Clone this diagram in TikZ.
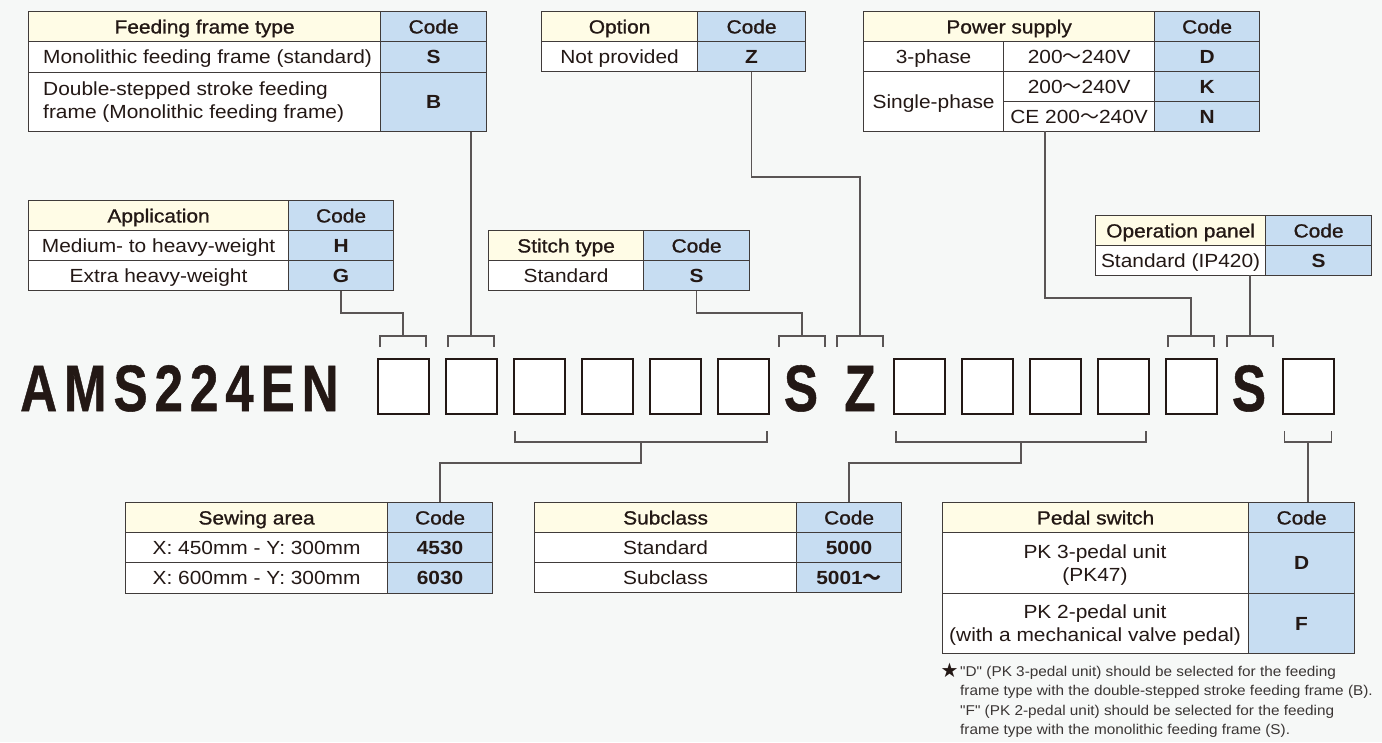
\documentclass[tikz,border=0pt]{standalone}
\usepackage{fontspec}
\setmainfont{Liberation Sans}[FakeStretch=1.10]
\newfontfamily\hdfont{Liberation Sans}[FakeStretch=1.10,FakeBold=1]
\newfontfamily\notefont{Liberation Sans}[FakeStretch=1.08]
\newfontfamily\titlefont{Liberation Sans}[LetterSpace=13.5,FakeBold=0.8]
\newfontfamily\codefont{Liberation Sans}[FakeBold=0.8]
\newfontfamily\cjk{Noto Sans CJK JP}
\newfontfamily\symfont{DejaVu Sans}
\newcommand\tld{{\cjk ～}}
\newcommand\fs{\fontsize{19}{23}\selectfont}
\definecolor{bg}{HTML}{F6F8F7}
\definecolor{cream}{HTML}{FFFCE6}
\definecolor{cblue}{HTML}{C7DDF2}
\definecolor{bd}{HTML}{403B3A}
\definecolor{txt}{HTML}{231815}
\definecolor{txtb}{HTML}{3A3534}
\definecolor{conn}{HTML}{5A5555}
\newcommand\tcell[7]{%
  \pgfmathsetmacro\cw{#4-#2}%
  \pgfmathsetmacro\ch{#5-#3}%
  \node[cellbox,#6,minimum width=\cw pt,minimum height=\ch pt,anchor=north west] (#1) at (#2,#3) {#7};}
\tikzset{
  cellbox/.style={draw=bd,line width=1.2pt,inner sep=0pt,align=center,text=txt,text height=13.7pt,text depth=0pt},
  multi/.style={text height={},text depth={}},
  hdr/.style={fill=cream,font=\hdfont\fs},
  codehd/.style={fill=cblue,font=\hdfont\fs},
  body/.style={fill=white,font=\fs},
  code/.style={fill=cblue,font=\bfseries\fs},
  lefttext/.style={anchor=west,inner sep=0pt,align=left,font=\fs,text=txt},
  conn/.style={draw=conn,line width=1.3pt},
  codebox/.style={draw=txt,line width=2.4pt,fill=white,minimum width=51pt,minimum height=55pt,inner sep=0pt},
  bigletter/.style={anchor=base,inner sep=0pt,font=\codefont\bfseries\fontsize{65.6}{70}\selectfont,text=txt}
}
\begin{document}
\begin{tikzpicture}[x=1pt,y=-1pt]
\fill[bg] (0,0) rectangle (1382,742);
\useasboundingbox (0,0) rectangle (1382,742);

% Feeding frame type
\tcell{ffH}{28}{11}{380}{41}{hdr}{Feeding frame type}
\tcell{ffHC}{380}{11}{486}{41}{codehd}{Code}
\tcell{ffR1}{28}{41}{380}{72}{body}{}
\tcell{ffS}{380}{41}{486}{72}{code}{S}
\tcell{ffR2}{28}{72}{380}{131}{body}{}
\tcell{ffB}{380}{72}{486}{131}{code}{B}
\node[lefttext,text height=13.7pt,text depth=0pt] (ffT1) at (43,56.5) {Monolithic feeding frame (standard)};
\node[lefttext] (ffT2) at (43,102.5) {Double-stepped stroke feeding\\frame (Monolithic feeding frame)};

% Option
\tcell{opH}{541}{11}{697}{41}{hdr}{Option}
\tcell{opHC}{697}{11}{805}{41}{codehd}{Code}
\tcell{opR1}{541}{41}{697}{71}{body}{Not provided}
\tcell{opZ}{697}{41}{805}{71}{code}{Z}

% Power supply
\tcell{psH}{863}{11}{1154}{41}{hdr}{Power supply}
\tcell{psHC}{1154}{11}{1259}{41}{codehd}{Code}
\tcell{psA1}{863}{41}{1003}{71}{body}{3-phase}
\tcell{psV1}{1003}{41}{1154}{71}{body}{200\tld240V}
\tcell{psD}{1154}{41}{1259}{71}{code}{D}
\tcell{psA2}{863}{71}{1003}{131}{body}{Single-phase}
\tcell{psV2}{1003}{71}{1154}{101}{body}{200\tld240V}
\tcell{psK}{1154}{71}{1259}{101}{code}{K}
\tcell{psV3}{1003}{101}{1154}{131}{body}{CE 200\tld240V}
\tcell{psN}{1154}{101}{1259}{131}{code}{N}

% Application
\tcell{apH}{28}{200}{288}{230}{hdr}{Application}
\tcell{apHC}{288}{200}{393}{230}{codehd}{Code}
\tcell{apR1}{28}{230}{288}{260}{body}{Medium- to heavy-weight}
\tcell{apHh}{288}{230}{393}{260}{code}{H}
\tcell{apR2}{28}{260}{288}{290}{body}{Extra heavy-weight}
\tcell{apG}{288}{260}{393}{290}{code}{G}

% Stitch type
\tcell{stH}{488}{230}{643}{260}{hdr}{Stitch type}
\tcell{stHC}{643}{230}{749}{260}{codehd}{Code}
\tcell{stR1}{488}{260}{643}{290}{body}{Standard}
\tcell{stS}{643}{260}{749}{290}{code}{S}

% Operation panel
\tcell{oaH}{1095}{215}{1265}{245}{hdr}{Operation panel}
\tcell{oaHC}{1265}{215}{1371}{245}{codehd}{Code}
\tcell{oaR1}{1095}{245}{1265}{275}{body}{Standard (IP420)}
\tcell{oaS}{1265}{245}{1371}{275}{code}{S}

% Sewing area
\tcell{saH}{125}{502}{387}{532}{hdr}{Sewing area}
\tcell{saHC}{387}{502}{492}{532}{codehd}{Code}
\tcell{saR1}{125}{532}{387}{562}{body}{X: 450mm - Y: 300mm}
\tcell{saC1}{387}{532}{492}{562}{code}{4530}
\tcell{saR2}{125}{562}{387}{593}{body}{X: 600mm - Y: 300mm}
\tcell{saC2}{387}{562}{492}{593}{code}{6030}

% Subclass
\tcell{scH}{534}{502}{796}{532}{hdr}{Subclass}
\tcell{scHC}{796}{502}{901}{532}{codehd}{Code}
\tcell{scR1}{534}{532}{796}{562}{body}{Standard}
\tcell{scC1}{796}{532}{901}{562}{code}{5000}
\tcell{scR2}{534}{562}{796}{592}{body}{Subclass}
\tcell{scC2}{796}{562}{901}{592}{code}{5001\tld}

% Pedal switch
\tcell{pdH}{942}{502}{1248}{532}{hdr}{Pedal switch}
\tcell{pdHC}{1248}{502}{1354}{532}{codehd}{Code}
\tcell{pdR1}{942}{532}{1248}{593}{body,multi}{}
\tcell{pdD}{1248}{532}{1354}{593}{code}{D}
\tcell{pdR2}{942}{593}{1248}{653}{body,multi}{}
\tcell{pdF}{1248}{593}{1354}{653}{code}{F}
\node[inner sep=0pt,align=center,font=\fs,text=txt] (pdT1) at (1095,565) {PK 3-pedal unit\\(PK47)};
\node[inner sep=0pt,align=center,font=\fs,text=txt] (pdT2) at (1095,625) {PK 2-pedal unit\\(with a mechanical valve pedal)};

% Model code line
\node[anchor=base west,inner sep=0pt,font=\titlefont\bfseries\fontsize{65.6}{70}\selectfont,text=txt] (title) at (20,411) {\scalebox{0.78}[1]{AMS224EN}};
\foreach \n/\x in {b1/403.5,b2/471.5,b3/539.5,b4/607.5,b5/675.5,b6/743.5,b7/919.5,b8/987.5,b9/1055.5,b10/1123.5,b11/1191.5,b12/1308.5}
  \node[codebox] (\n) at (\x,386.5) {};
\node[bigletter] (lS1) at (801,411) {\scalebox{0.78}[1]{S}};
\node[bigletter] (lZ) at (860,411) {\scalebox{0.78}[1]{Z}};
\node[bigletter] (lS2) at (1249,411) {\scalebox{0.78}[1]{S}};

% bracket coordinates
\coordinate (u1) at (403,336);
\coordinate (u2) at (471,336);
\coordinate (u7) at (802,336);
\coordinate (u8) at (860,336);
\coordinate (u11) at (1191,336);
\coordinate (u12) at (1250,336);
\coordinate (l1) at (641,442);
\coordinate (l2) at (1021,442);
\coordinate (l3) at (1308,442);
\coordinate (k1) at (0,313);
\coordinate (k2) at (0,177);
\coordinate (k3) at (0,298);
\coordinate (k4) at (0,463);
\coordinate (psx) at (1045,131);
\coordinate (oax) at (1250,275);

% upper brackets
\foreach \c in {u1,u2,u7,u8,u11,u12}
  \draw[conn] (\c) ++(-23,11) -- ++(0,-11) -- ++(46,0) -- ++(0,11);
% lower brackets
\draw[conn] (l1) ++(-126,-11) -- ++(0,11) -- ++(252,0) -- ++(0,-11);
\draw[conn] (l2) ++(-125,-11) -- ++(0,11) -- ++(250,0) -- ++(0,-11);
\draw[conn] (l3) ++(-23.5,-11) -- ++(0,11) -- ++(47,0) -- ++(0,-11);

% connectors
\draw[conn] (apG.south) |- (k1 -| u1) -- (u1);
\draw[conn] (ffB.south -| u2) -- (u2);
\draw[conn] (stS.south) |- (k1 -| u7) -- (u7);
\draw[conn] (opZ.south) |- (k2 -| u8) -- (u8);
\draw[conn] (psx) |- (k3 -| u11) -- (u11);
\draw[conn] (oax) -- (u12);
\draw[conn] (l1) -- (l1 |- k4) -| (saHC.north);
\draw[conn] (l2) -- (l2 |- k4) -| (scHC.north);
\draw[conn] (l3) -- (l3 |- pdHC.north);

% footnote
\node[anchor=base,inner sep=0pt,font=\symfont\fontsize{20}{20}\selectfont,text=txt] (star) at (949.5,677) {★};
\node[anchor=north west,inner sep=0pt,align=left,font=\notefont\fontsize{14.2}{19.3}\selectfont,text=txtb] (note) at (960,666) {"D" (PK 3-pedal unit) should be selected for the feeding\\frame type with the double-stepped stroke feeding frame (B).\\"F" (PK 2-pedal unit) should be selected for the feeding\\frame type with the monolithic feeding frame (S).};
\end{tikzpicture}
\end{document}
